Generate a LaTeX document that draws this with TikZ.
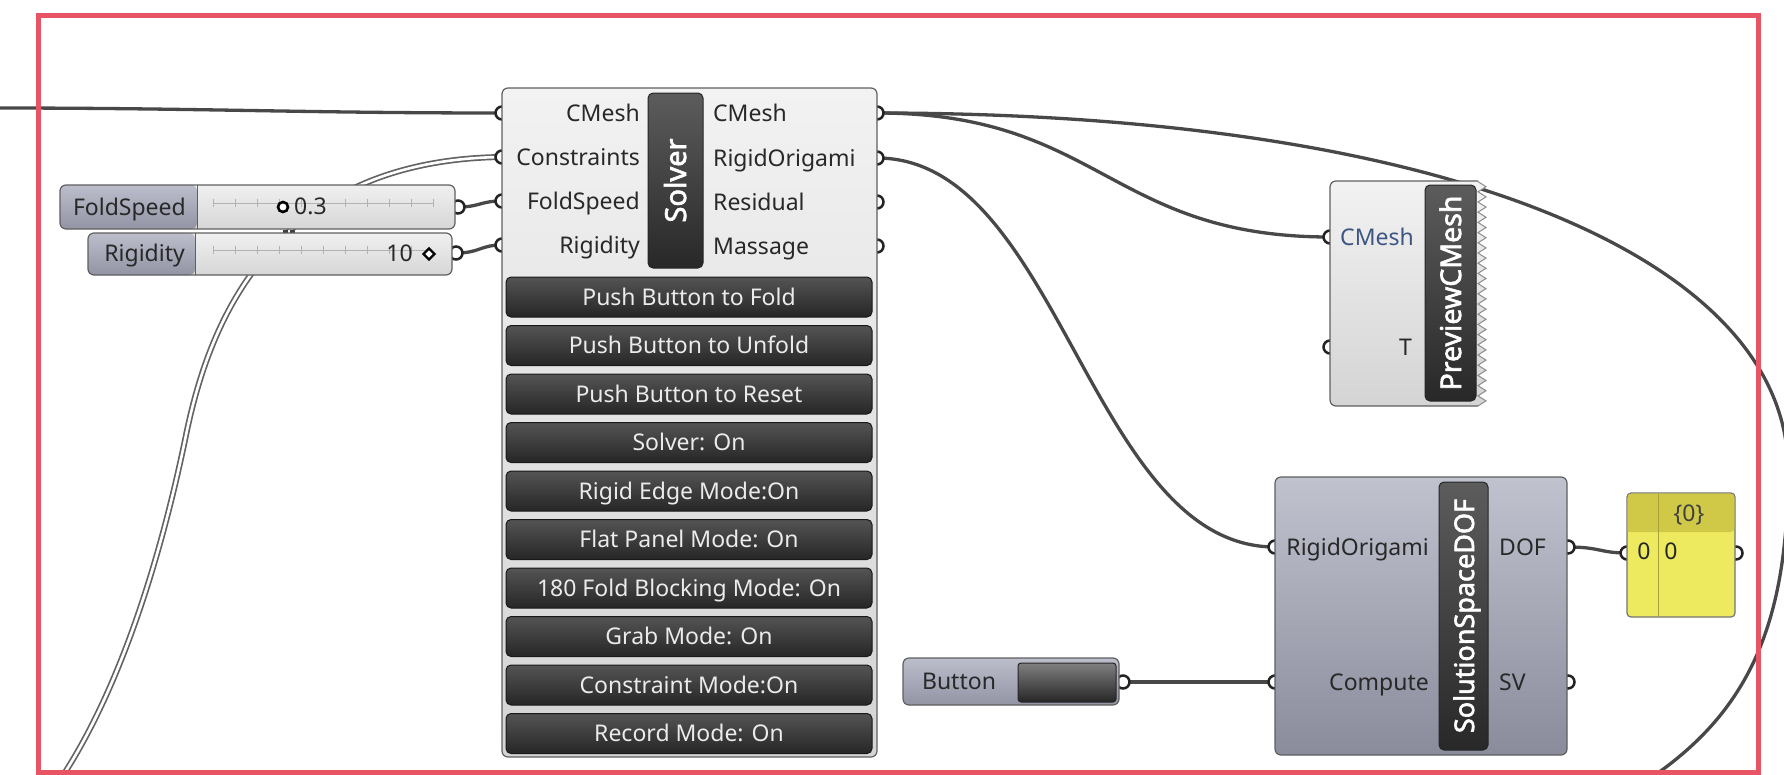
\documentclass[tikz,border=0pt]{standalone}
\usepackage{fontspec}
\setmainfont{Noto Sans}
\newfontfamily\namefont{Noto Sans}[FakeBold=2.2]
\usetikzlibrary{calc}
\definecolor{framec}{RGB}{231,84,100}
\definecolor{wirec}{RGB}{72,72,72}
\definecolor{gripc}{RGB}{35,35,35}
\definecolor{bodytop}{RGB}{242,242,242}
\definecolor{bodybot}{RGB}{212,212,212}
\definecolor{bodyline}{RGB}{95,95,95}
\definecolor{bartop}{RGB}{92,92,92}
\definecolor{barbot}{RGB}{40,40,40}
\definecolor{btntop}{RGB}{84,84,84}
\definecolor{btnbot}{RGB}{38,38,38}
\definecolor{slabtop}{RGB}{188,190,204}
\definecolor{slabbot}{RGB}{146,148,164}
\definecolor{svaltop}{RGB}{240,240,240}
\definecolor{svalbot}{RGB}{214,214,214}
\definecolor{doftop}{RGB}{192,194,206}
\definecolor{dofbot}{RGB}{138,140,156}
\definecolor{panelc}{RGB}{238,234,96}
\definecolor{panelh}{RGB}{208,201,72}
\definecolor{labelc}{RGB}{40,40,40}
\definecolor{bluelab}{RGB}{62,86,132}
\begin{document}
\begin{tikzpicture}[x=1pt,y=-1pt,
  txt/.style={inner sep=0pt, text height=16pt, text depth=0pt, font=\fontsize{23}{26}\selectfont, text=labelc},
  inl/.style={txt, anchor=east},
  outl/.style={txt, anchor=west},
  grip/.style={circle, draw=gripc, fill=white, line width=2.5pt, minimum size=13pt, inner sep=0pt},
  wire/.style={draw=wirec, line width=3.3pt},
  dwire/.style={draw=wirec!85, line width=1.7pt, double=white, double distance=2.6pt},
  body/.style={draw=bodyline, line width=1.2pt, rounded corners=6pt, top color=bodytop, bottom color=bodybot, inner sep=0pt},
  dofbody/.style={draw=bodyline, line width=1.2pt, rounded corners=6pt, top color=doftop, bottom color=dofbot, inner sep=0pt},
  namebar/.style={draw=black!85, line width=1pt, rounded corners=5pt, top color=bartop, bottom color=barbot, inner sep=0pt},
  nametext/.style={rotate=90, text=white, inner sep=0pt, text height=21pt, text depth=0pt},
  btn/.style={draw=black!90, line width=1pt, rounded corners=5pt, top color=btntop, bottom color=btnbot, minimum width=366pt, minimum height=40pt, text=white!92!black, font=\fontsize{23}{26}\selectfont, text height=16pt, text depth=0pt, inner sep=0pt},
  slval/.style={top color=svaltop, bottom color=svalbot, inner sep=0pt, rounded corners=6pt},
  slab/.style={top color=slabtop, bottom color=slabbot},
  slborder/.style={draw=bodyline, line width=1.2pt, rounded corners=6pt},
  track/.style={draw=black!30, line width=0.8pt},
]
\useasboundingbox (0,0) rectangle (1784,774);
\clip (0,0) rectangle (1784,774);

% ---------- grip coordinates ----------
\coordinate (s-i1) at (502,113);
\coordinate (s-i2) at (502,157);
\coordinate (s-i3) at (502,201);
\coordinate (s-i4) at (502,245);
\coordinate (s-o1) at (877,113);
\coordinate (s-o2) at (877,158);
\coordinate (s-o3) at (877,202);
\coordinate (s-o4) at (877,246);
\coordinate (fs-o) at (458,207);
\coordinate (rg-o) at (456,253);
\coordinate (p-i1) at (1330,237);
\coordinate (p-i2) at (1330,347);
\coordinate (d-i1) at (1275,547);
\coordinate (d-i2) at (1275,682);
\coordinate (d-o1) at (1568,547);
\coordinate (d-o2) at (1568,682);
\coordinate (b-o) at (1123,682);
\coordinate (pn-i) at (1627,553);
\coordinate (pn-o) at (1736,553);
\coordinate (src-cm) at (-5,108);
\coordinate (src-ct) at (60,780);
\coordinate (ct-mid) at (185,440);
\coordinate (loop-r) at (1788,470);
\coordinate (dst-loop) at (1615,800);

% ---------- wires ----------
\draw[wire] (src-cm) .. controls (200,108) and (300,113) .. (s-i1);
\draw[dwire] (src-ct) .. controls (120,690) and (160,560) .. (ct-mid) .. controls (205,340) and (260,160) .. (s-i2);
\draw[wire] (fs-o) .. controls (480,207) and (480,201) .. (s-i3);
\draw[wire] (rg-o) .. controls (480,253) and (480,245) .. (s-i4);
\draw[wire] (s-o1) .. controls (1100,113) and (1110,237) .. (p-i1);
\draw[wire] (s-o1) .. controls (1450,113) and (1788,260) .. (loop-r) .. controls (1788,640) and (1740,730) .. (dst-loop);
\draw[wire] (s-o2) .. controls (1060,158) and (1090,547) .. (d-i1);
\draw[wire] (b-o) -- (d-i2);
\draw[wire] (d-o1) .. controls (1600,547) and (1600,553) .. (pn-i);

% ---------- grips ----------
\foreach \g in {s-i1,s-i2,s-i3,s-i4,s-o1,s-o2,s-o3,s-o4,fs-o,rg-o,p-i1,p-i2,d-i1,d-i2,d-o1,d-o2,b-o,pn-i,pn-o}
  \node[grip] (\g-grip) at (\g) {};

% ---------- sliders ----------
\node[slval, minimum width=395pt, minimum height=44pt] (fs) at (257.5,207) {};
\path[slab, rounded corners=6pt] (197,229) -- (60,229) -- (60,185) -- (197,185) -- cycle;
\draw[slborder] (60,185) rectangle (455,229);
\draw[bodyline, line width=1pt] (197,185) -- (197,229);
\draw[track] (213,203) -- (433,203);
\foreach \x in {213,235,...,433} \draw[track] (\x,199) -- (\x,207);
\node[inl] (fs-lab) at (186,207) {FoldSpeed};
\node[circle, draw=black, line width=2.6pt, fill=white, minimum size=10pt, inner sep=0pt] (fs-knob) at (283,207) {};
\node[outl] (fs-val) at (294,206) {0.3};
\fill[black!75] (283,230) rectangle (288,232.5);
\fill[black!75] (290,230) rectangle (295,232.5);

\node[slval, minimum width=364pt, minimum height=42pt] (rg) at (270,254) {};
\path[slab, rounded corners=6pt] (195,275) -- (88,275) -- (88,233) -- (195,233) -- cycle;
\draw[slborder] (88,233) rectangle (452,275);
\draw[bodyline, line width=1pt] (195,233) -- (195,275);
\draw[track] (213,250) -- (430,250);
\foreach \x in {213,235,...,430} \draw[track] (\x,246) -- (\x,254);
\node[inl] (rg-lab) at (185,253) {Rigidity};
\node[inl] (rg-val) at (413,253) {10};
\draw[black, line width=2.2pt, fill=white] (429,248.5) -- (434.5,254) -- (429,259.5) -- (423.5,254) -- cycle;

% ---------- Solver ----------
\node[body, minimum width=375pt, minimum height=669pt] (solver) at (689.5,422.5) {};
\node[namebar, minimum width=55pt, minimum height=175pt] (sbar) at (675.5,180.5) {};
\node[nametext, font=\namefont\fontsize{29}{34}\selectfont] (sname) at (sbar.center) {Solver};
\node[inl] (s-l1) at (640,113) {CMesh};
\node[inl] (s-l2) at (640,157) {Constraints};
\node[inl] (s-l3) at (640,201) {FoldSpeed};
\node[inl] (s-l4) at (640,245) {Rigidity};
\node[outl] (s-r1) at (713,113) {CMesh};
\node[outl] (s-r2) at (713,158) {RigidOrigami};
\node[outl] (s-r3) at (713,202) {Residual};
\node[outl] (s-r4) at (713,246) {Massage};
\node[btn] (b1) at (689,297) {Push Button to Fold};
\node[btn] (b2) at (689,345.5) {Push Button to Unfold};
\node[btn] (b3) at (689,394) {Push Button to Reset};
\node[btn] (b4) at (689,442.5) {Solver: On};
\node[btn] (b5) at (689,491) {Rigid Edge Mode:On};
\node[btn] (b6) at (689,539.5) {Flat Panel Mode: On};
\node[btn] (b7) at (689,588) {180 Fold Blocking Mode: On};
\node[btn] (b8) at (689,636.5) {Grab Mode: On};
\node[btn] (b9) at (689,685) {Constraint Mode:On};
\node[btn] (b10) at (689,733.5) {Record Mode: On};

% ---------- PreviewCMesh ----------
\path[top color=bodytop, bottom color=bodybot] (1478,181) [rounded corners=6pt] -- (1330,181) -- (1330,406) [sharp corners] -- (1478,406)
  \foreach \k in {1,...,22} { -- ++(8,-5.1) -- ++(-8,-5.1) } -- cycle;
\draw[bodyline, line width=1.2pt] (1478,181) [rounded corners=6pt] -- (1330,181) -- (1330,406) [sharp corners] -- (1478,406);
\draw[black!45, line width=1pt] (1478,406) \foreach \k in {1,...,22} { -- ++(8,-5.1) -- ++(-8,-5.1) };
\node[namebar, minimum width=51pt, minimum height=216pt] (pbar) at (1450.5,293) {};
\node[nametext, font=\namefont\fontsize{28.5}{33}\selectfont] (pname) at (pbar.center) {PreviewCMesh};
\node[inl, text=bluelab] (p-l1) at (1414,237) {CMesh};
\node[inl] (p-l2) at (1412,347) {T};

% ---------- SolutionSpaceDOF ----------
\node[dofbody, minimum width=292pt, minimum height=278pt] (dof) at (1421,616) {};
\node[namebar, minimum width=49pt, minimum height=268pt] (dbar) at (1463.5,616) {};
\node[nametext, font=\namefont\fontsize{27}{32}\selectfont] (dname) at (dbar.center) {SolutionSpaceDOF};
\node[inl] (d-l1) at (1429,547) {RigidOrigami};
\node[inl] (d-l2) at (1429,682) {Compute};
\node[outl] (d-r1) at (1499,547) {DOF};
\node[outl] (d-r2) at (1499,682) {SV};

% ---------- Button ----------
\node[draw=bodyline, line width=1.2pt, rounded corners=6pt, slab, minimum width=216pt, minimum height=47pt, inner sep=0pt] (btncomp) at (1011,681.5) {};
\node[draw=black!85, line width=1pt, rounded corners=3pt, top color=black!50, bottom color=black!85, minimum width=98pt, minimum height=39pt, inner sep=0pt] (btnkey) at (1067,682.5) {};
\node[txt] (btn-lab) at (959,681) {Button};

% ---------- Panel ----------
\node[draw=black!55, line width=1.2pt, rounded corners=4pt, fill=panelc, minimum width=108pt, minimum height=124pt, inner sep=0pt] (panel) at (1681,555) {};
\path[fill=panelh, rounded corners=4pt] (1627.6,532) -- (1627.6,493.6) -- (1734.4,493.6) -- (1734.4,532) [sharp corners] -- cycle;
\draw[panelh!80!black, line width=0.6pt] (1658,494) -- (1658,616);
\node[txt, text=black!75] (pn-head) at (1689,513) {\{0\}};
\node[txt, text=black!85] (pn-idx) at (1644,551) {0};
\node[txt, text=black!85] (pn-v) at (1671,551) {0};

% ---------- frame ----------
\draw[framec, line width=5pt] (38,15) rectangle (1758,772);
\end{tikzpicture}
\end{document}
